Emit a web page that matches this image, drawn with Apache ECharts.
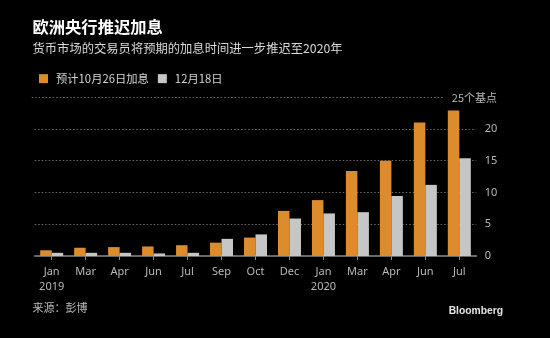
<!DOCTYPE html>
<html>
<head>
<meta charset="utf-8">
<style>
  html, body { margin: 0; padding: 0; background: #000; }
  #chart { width: 550px; height: 338px; }
</style>
<script src="https://cdn.jsdelivr.net/npm/echarts@6/dist/echarts.min.js"></script>
</head>
<body>
<div id="chart"></div>
<script>
// Meeting months on the x axis, with the year shown under the first month of each year
const months = ['Jan', 'Mar', 'Apr', 'Jun', 'Jul', 'Sep', 'Oct', 'Dec', 'Jan', 'Mar', 'Apr', 'Jun', 'Jul'];
const years  = ['2019', '', '', '', '', '', '', '', '2020', '', '', '', ''];

// Cumulative hikes priced in, in basis points
const seriesNames = ['预计10月26日加息', '12月18日'];
const pricedOct26 = [0.9, 1.3, 1.4, 1.5, 1.7, 2.1, 2.9, 7.1, 8.8, 13.4, 15.0, 21.0, 22.9];
const pricedDec18 = [0.5, 0.5, 0.5, 0.4, 0.5, 2.7, 3.4, 5.9, 6.7, 6.9, 9.45, 11.2, 15.4];

// Value axis ticks
const yTicks = [0, 5, 10, 15, 20, 25];
const yTopLabel = '25个基点';

const ORANGE = '#dc8b2d';
const GREY = '#c6c6c6';
const CJK = '"Noto Sans CJK SC", "Noto Sans", sans-serif';
const LATIN = '"Noto Sans", "Noto Sans CJK SC", sans-serif';
const GRID_COLOR = '#6a6a6a';

const categories = months.map((m, i) => years[i] ? m + '\n' + years[i] : m);

const chart = echarts.init(document.getElementById('chart'), null, { renderer: 'canvas' });

const gridLeft = 34.7, gridRight = 73.7, gridTop = 97.2, gridBottom = 82;

chart.setOption({
  backgroundColor: '#000',
  animation: false,
  grid: { left: gridLeft, right: gridRight, top: gridTop, bottom: gridBottom, containLabel: false },
  legend: {
    left: 34, top: 68,
    itemWidth: 9, itemHeight: 9, itemGap: 9,
    icon: 'rect',
    textStyle: { color: '#d4d4d4', fontSize: 11.3, fontFamily: CJK, padding: [0, 0, 0, 3] },
    data: seriesNames
  },
  xAxis: {
    type: 'category',
    data: categories,
    boundaryGap: true,
    axisLine: { show: true, lineStyle: { color: '#8c8c8c', width: 1.5 } },
    axisTick: { show: true, alignWithLabel: true, length: 4, lineStyle: { color: '#8c8c8c' } },
    axisLabel: {
      color: '#b8b8b8', fontSize: 11, fontFamily: LATIN, lineHeight: 15, margin: 8, interval: 0
    },
    splitLine: { show: false }
  },
  yAxis: {
    type: 'value',
    position: 'right',
    min: yTicks[0],
    max: yTicks[yTicks.length - 1],
    interval: yTicks[1] - yTicks[0],
    axisLine: { show: false },
    axisTick: { show: false },
    axisLabel: {
      color: '#b8b8b8', fontSize: 11, fontFamily: LATIN, margin: 8.5, align: 'left',
      formatter: v => (v === yTicks[yTicks.length - 1] ? '' : String(v))
    },
    splitLine: {
      show: true, showMinLine: false, showMaxLine: false,
      lineStyle: { color: GRID_COLOR, type: [1.5, 2], width: 1 }
    }
  },
  series: [
    {
      name: seriesNames[0], type: 'bar', data: pricedOct26,
      barWidth: 11.5, barGap: '0%',
      itemStyle: { color: ORANGE }
    },
    {
      name: seriesNames[1], type: 'bar', data: pricedDec18,
      barWidth: 11.5, barGap: '0%',
      itemStyle: { color: GREY }
    }
  ]
});

// Top gridline is shortened to make room for the unit label at the top of the value axis
const topVal = yTicks[yTicks.length - 1];
const yTop = Math.round(chart.convertToPixel({ yAxisIndex: 0 }, topVal)) + 0.5;

chart.setOption({
  graphic: [
    {
      id: 'title', type: 'text', left: 32.5, top: 19,
      style: { text: '欧洲央行推迟加息', fill: '#ffffff', font: 'bold 16.3px ' + CJK }
    },
    {
      id: 'subtitle', type: 'text', left: 32.5, top: 42,
      style: { text: '货币市场的交易员将预期的加息时间进一步推迟至2020年', fill: '#dadada', font: '12.3px ' + CJK }
    },
    {
      id: 'source', type: 'text', left: 32.5, top: 302.5,
      style: { text: '来源：彭博', fill: '#bdbdbd', font: '11px ' + CJK }
    },
    {
      id: 'brand', type: 'text', right: 47, top: 306.5,
      style: { text: 'Bloomberg', fill: '#e4e4e4', font: 'bold 10.3px "Liberation Sans", Arial, sans-serif' }
    },
    {
      id: 'topGrid', type: 'line', silent: true,
      shape: { x1: 31.7, y1: yTop, x2: 445, y2: yTop },
      style: { stroke: GRID_COLOR, lineWidth: 1, lineDash: [1.5, 2] }
    },
    {
      id: 'unitLabel', type: 'text', silent: true,
      x: 497, y: yTop,
      style: { text: yTopLabel, fill: '#b8b8b8', font: '11px ' + CJK, align: 'right', verticalAlign: 'middle' }
    }
  ]
});
</script>
</body>
</html>
